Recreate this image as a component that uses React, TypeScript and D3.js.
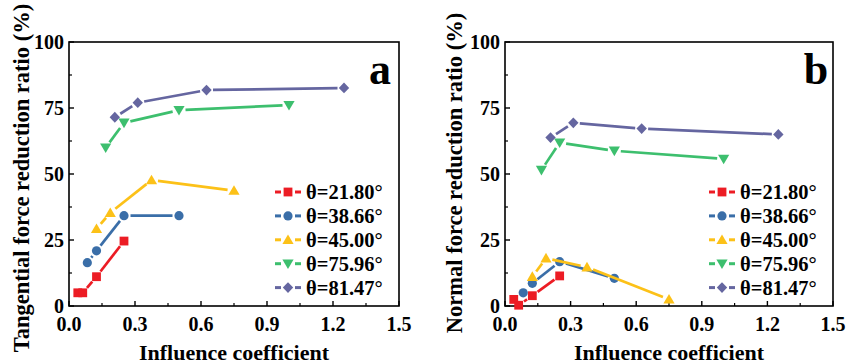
import * as d3 from 'd3';

// Series labels and colours
const thetaLabels = ['θ=21.80°', 'θ=38.66°', 'θ=45.00°', 'θ=75.96°', 'θ=81.47°'];
const seriesColors = ['#ec1c24', '#3a6ea8', '#fcc118', '#3dbf6e', '#6566a0'];
const markerTypes = ['square', 'circle', 'triangle', 'triangleDown', 'diamond'];

// Influence coefficient (x) per series
const xRed = [0.04, 0.0625, 0.125, 0.25];
const xBlue = [0.0833, 0.125, 0.25, 0.5];
const xYellow = [0.125, 0.1875, 0.375, 0.75];
const xGreen = [0.1667, 0.25, 0.5, 1.0];
const xPurple = [0.2083, 0.3125, 0.625, 1.25];

// Tangential force reduction ratio (%) - panel a
const tanRed = [5.0, 5.0, 11.1, 24.6];
const tanBlue = [16.4, 20.9, 34.2, 34.2];
const tanYellow = [29.2, 35.3, 47.7, 43.7];
const tanGreen = [60.0, 69.4, 74.2, 76.1];
const tanPurple = [71.5, 77.0, 81.8, 82.6];

// Normal force reduction ratio (%) - panel b
const normRed = [2.5, 0.3, 3.9, 11.4];
const normBlue = [5.0, 8.6, 16.8, 10.5];
const normYellow = [11.1, 18.1, 14.7, 2.5];
const normGreen = [51.5, 61.9, 58.8, 55.7];
const normPurple = [63.8, 69.4, 67.2, 65.0];

const xTicks = [0.0, 0.3, 0.6, 0.9, 1.2, 1.5];
const xMinor = [0.15, 0.45, 0.75, 1.05, 1.35];
const yTicks = [0, 25, 50, 75, 100];
const yMinor = [12.5, 37.5, 62.5, 87.5];

const xSeries = [xRed, xBlue, xYellow, xGreen, xPurple];

const FONT = '"Liberation Serif", "Times New Roman", serif';

function Marker({ type, x, y, color }: { type: string; x: number; y: number; color: string }) {
  if (type === 'square') return <rect x={x - 4.4} y={y - 4.4} width={8.8} height={8.8} fill={color} />;
  if (type === 'circle') return <circle cx={x} cy={y} r={4.6} fill={color} />;
  if (type === 'triangle')
    return <path d={`M${x},${y - 5.4}L${x + 5.6},${y + 4.2}L${x - 5.6},${y + 4.2}Z`} fill={color} />;
  if (type === 'triangleDown')
    return <path d={`M${x},${y + 5.4}L${x + 5.6},${y - 4.2}L${x - 5.6},${y - 4.2}Z`} fill={color} />;
  return <path d={`M${x},${y - 5.4}L${x + 5.2},${y}L${x},${y + 5.4}L${x - 5.2},${y}Z`} fill={color} />;
}

// line segments with a small gap round each symbol, the way Origin draws them
function gappedSegments(pts: [number, number][], gap: number) {
  const segs: [number, number, number, number][] = [];
  for (let i = 0; i < pts.length - 1; i++) {
    const [x1, y1] = pts[i];
    const [x2, y2] = pts[i + 1];
    const len = Math.hypot(x2 - x1, y2 - y1);
    if (len <= gap * 2 + 1) continue;
    const ux = (x2 - x1) / len;
    const uy = (y2 - y1) / len;
    segs.push([x1 + ux * gap, y1 + uy * gap, x2 - ux * gap, y2 - uy * gap]);
  }
  return segs;
}

function Panel({
  left, right, ySeries, yLabel, letter, letterX, labelX, labelY,
}: {
  left: number; right: number; ySeries: number[][]; yLabel: string; letter: string;
  letterX: number; labelX: number; labelY: number;
}) {
  const top = 42;
  const bottom = 306;
  const x = d3.scaleLinear().domain([0, 1.5]).range([left, right]);
  const y = d3.scaleLinear().domain([0, 100]).range([bottom, top]);
  const legX = right - 111;
  const legY0 = 192;
  const legStep = 23.9;

  return (
    <g>
      {/* frame */}
      <rect x={left} y={top} width={right - left} height={bottom - top} fill="none" stroke="#000" strokeWidth={1.6} />
      {xTicks.map(t => (
        <g key={'xt' + t}>
          <line x1={x(t)} x2={x(t)} y1={bottom} y2={bottom - 5} stroke="#000" strokeWidth={1.4} />
          <text x={x(t)} y={331} textAnchor="middle" fontSize={20} fontWeight="bold" fontFamily={FONT}>
            {t.toFixed(1)}
          </text>
        </g>
      ))}
      {xMinor.map(t => (
        <line key={'xm' + t} x1={x(t)} x2={x(t)} y1={bottom} y2={bottom - 3} stroke="#000" strokeWidth={1.2} />
      ))}
      {yTicks.map(t => (
        <g key={'yt' + t}>
          <line x1={left} x2={left + 5} y1={y(t)} y2={y(t)} stroke="#000" strokeWidth={1.4} />
          <text x={left - 5} y={y(t) + 6.5} textAnchor="end" fontSize={20} fontWeight="bold" fontFamily={FONT}>
            {t}
          </text>
        </g>
      ))}
      {yMinor.map(t => (
        <line key={'ym' + t} x1={left} x2={left + 3} y1={y(t)} y2={y(t)} stroke="#000" strokeWidth={1.2} />
      ))}

      {/* series */}
      {ySeries.map((ys, si) => {
        const pts = xSeries[si].map((xv, i) => [x(xv), y(ys[i])] as [number, number]);
        return (
          <g key={'s' + si}>
            {gappedSegments(pts, 6.5).map((s, i) => (
              <line key={i} x1={s[0]} y1={s[1]} x2={s[2]} y2={s[3]} stroke={seriesColors[si]} strokeWidth={2.7} />
            ))}
            {pts.map((p, i) => (
              <Marker key={i} type={markerTypes[si]} x={p[0]} y={p[1]} color={seriesColors[si]} />
            ))}
          </g>
        );
      })}

      {/* legend */}
      {thetaLabels.map((lab, i) => {
        const ly = legY0 + i * legStep;
        return (
          <g key={lab}>
            <line x1={legX - 13} x2={legX - 7} y1={ly} y2={ly} stroke={seriesColors[i]} strokeWidth={3} />
            <line x1={legX + 7} x2={legX + 13} y1={ly} y2={ly} stroke={seriesColors[i]} strokeWidth={3} />
            <Marker type={markerTypes[i]} x={legX} y={ly} color={seriesColors[i]} />
            <text x={legX + 18} y={ly + 7} fontSize={20.5} fontWeight="bold" fontFamily={FONT}>
              {lab}
            </text>
          </g>
        );
      })}

      <text x={letterX} y={84} textAnchor="middle" fontSize={44} fontWeight="bold" fontFamily={FONT}>
        {letter}
      </text>

      <text x={(left + right) / 2} y={360} textAnchor="middle" fontSize={22} fontWeight="bold" fontFamily={FONT}>
        Influence coefficient
      </text>
      <text
        transform={`translate(${labelX},${labelY}) rotate(-90)`}
        textAnchor="middle"
        fontSize={22.5}
        fontWeight="bold"
        fontFamily={FONT}
      >
        {yLabel}
      </text>
    </g>
  );
}

export default function App() {
  return (
    <svg
      width={859}
      height={364}
      style={{ position: 'absolute', left: 0, top: 0, background: '#fff' }}
    >
      <rect width={859} height={364} fill="#fff" />
      <Panel
        left={69}
        right={399}
        ySeries={[tanRed, tanBlue, tanYellow, tanGreen, tanPurple]}
        yLabel="Tangential force reduction ratio (%)"
        letter="a"
        letterX={380}
        labelX={29}
        labelY={178}
      />
      <Panel
        left={505}
        right={833}
        ySeries={[normRed, normBlue, normYellow, normGreen, normPurple]}
        yLabel="Normal force reduction ratio (%)"
        letter="b"
        letterX={816}
        labelX={462}
        labelY={173}
      />
    </svg>
  );
}
